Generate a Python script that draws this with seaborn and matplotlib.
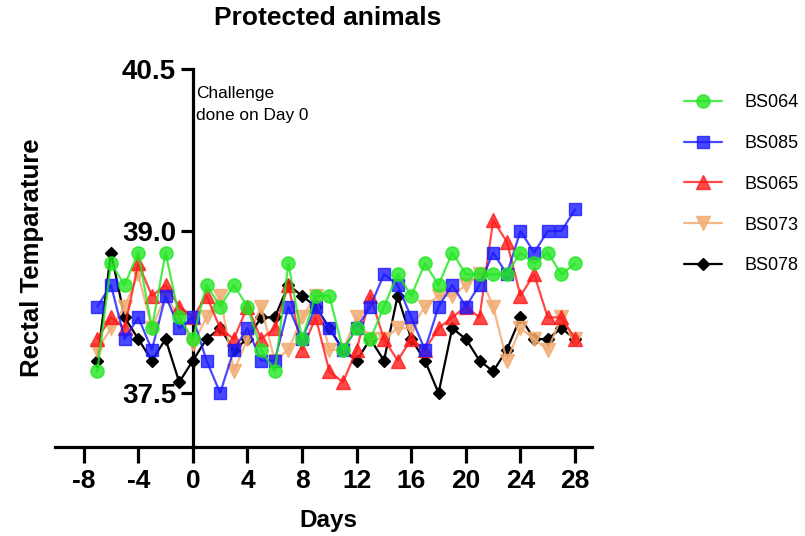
import matplotlib
matplotlib.use("Agg")
import matplotlib.pyplot as plt
import seaborn as sns
import pandas as pd

days = list(range(-7, 29))

bs064 = [37.7, 38.7, 38.5, 38.8, 38.1, 38.8, 38.2, 38.0, 38.5, 38.3, 38.5, 38.3, 37.9, 37.7,
         38.7, 38.0, 38.4, 38.4, 37.9, 38.1, 38.0, 38.3, 38.6, 38.4, 38.7, 38.5, 38.8, 38.6,
         38.6, 38.6, 38.6, 38.8, 38.7, 38.8, 38.6, 38.7]
bs085 = [38.3, 38.5, 38.0, 38.2, 37.9, 38.4, 38.1, 38.2, 37.8, 37.5, 37.9, 38.1, 37.8, 37.8,
         38.3, 38.0, 38.3, 38.1, 37.9, 38.1, 38.3, 38.6, 38.5, 38.2, 37.9, 38.3, 38.5, 38.3,
         38.5, 38.8, 38.6, 39.0, 38.8, 39.0, 39.0, 39.2]
bs065 = [38.0, 38.2, 38.1, 38.7, 38.4, 38.5, 38.3, 38.2, 38.4, 38.1, 38.0, 38.3, 38.0, 38.1,
         38.5, 37.9, 38.2, 37.7, 37.6, 37.9, 38.4, 38.0, 37.8, 38.0, 37.9, 38.1, 38.2, 38.3,
         38.2, 39.1, 38.9, 38.4, 38.6, 38.2, 38.2, 38.0]
bs073 = [37.9, 38.1, 38.3, 38.6, 38.1, 38.4, 38.2, 37.95, 38.2, 38.4, 37.7, 38.0, 38.3, 37.8,
         37.9, 38.2, 38.4, 37.9, 37.9, 38.2, 38.0, 38.0, 38.1, 38.1, 38.3, 38.4, 38.4, 38.5,
         38.6, 38.3, 37.8, 38.1, 38.0, 37.9, 38.2, 38.0]
bs078 = [37.8, 38.8, 38.2, 38.0, 37.8, 38.0, 37.6, 37.8, 38.0, 38.1, 37.9, 38.0, 38.2, 38.2,
         38.5, 38.4, 38.3, 38.1, 37.9, 37.8, 38.0, 37.8, 38.4, 38.0, 37.8, 37.5, 38.1, 38.0,
         37.8, 37.7, 37.9, 38.2, 38.0, 38.0, 38.1, 38.0]

names = ["BS064", "BS085", "BS065", "BS073", "BS078"]
series = [bs064, bs085, bs065, bs073, bs078]
colors = ["#22e622", "#1a1aff", "#ff1a1a", "#f2ac72", "#000000"]
markers = ["o", "s", "^", "v", "D"]
msizes = [9.5, 9, 10, 10, 6.5]
alphas = [0.8, 0.8, 0.8, 0.85, 1.0]

xticks = [-8, -4, 0, 4, 8, 12, 16, 20, 24, 28]
yticks = [37.5, 39.0, 40.5]
ytick_labels = ["37.5", "39.0", "40.5"]

sns.set_theme(style="white")
plt.rcParams["font.family"] = ["Liberation Sans", "DejaVu Sans"]
plt.rcParams["axes.unicode_minus"] = False
plt.rcParams["text.color"] = "black"
plt.rcParams["axes.labelcolor"] = "black"
plt.rcParams["xtick.color"] = "black"
plt.rcParams["ytick.color"] = "black"

fig = plt.figure(figsize=(8.05, 5.36), dpi=100)
ax = fig.add_axes([55 / 805, 89 / 536, (592 - 55) / 805, (447 - 69) / 536])

n = len(names)
for i in reversed(range(n)):
    df = pd.DataFrame({"Day": days, "Temp": series[i]})
    sns.lineplot(data=df, x="Day", y="Temp", ax=ax, color=colors[i], marker=markers[i],
                 markersize=msizes[i], markeredgecolor=colors[i], markeredgewidth=1,
                 linewidth=1.6, alpha=alphas[i], zorder=3 + (n - i), label=names[i],
                 clip_on=False)

ax.set_xlim(-10.1, 29.24)
ax.set_ylim(37.0, 40.5)

for s in ["top", "right"]:
    ax.spines[s].set_visible(False)
ax.spines["left"].set_position(("data", 0))
for s in ["left", "bottom"]:
    ax.spines[s].set_linewidth(2.3)
    ax.spines[s].set_color("black")
    ax.spines[s].set_zorder(2)

ax.set_xticks(xticks)
ax.set_xticklabels([str(t) for t in xticks])
ax.set_yticks(yticks)
ax.set_yticklabels(ytick_labels)
ax.tick_params(axis="x", direction="out", length=11.5, width=2.3, color="black",
               labelsize=19, pad=4, bottom=True, labelcolor="black")
ax.tick_params(axis="y", direction="out", length=9, width=2.3, color="black",
               labelsize=20, pad=3, left=True, labelcolor="black")
for lab in ax.get_xticklabels() + ax.get_yticklabels():
    lab.set_fontweight("bold")

ax.set_xlabel("")
ax.set_ylabel("")
ax.grid(False)

fig.text(328 / 805, 1 - 18 / 536, "Protected animals", ha="center", va="center",
         fontsize=19, fontweight="bold", color="black")
fig.text(32 / 805, 1 - 258 / 536, "Rectal Temparature", ha="center", va="center",
         rotation=90, fontsize=18.5, fontweight="bold", color="black")
fig.text(328 / 805, 1 - 521 / 536, "Days", ha="center", va="center",
         fontsize=17.5, fontweight="bold", color="black")
ax.text(0.25, 40.34, "Challenge\ndone on Day 0", ha="left", va="top", fontsize=12.4,
        linespacing=1.55, color="black")

handles, labels = ax.get_legend_handles_labels()
order = [labels.index(nm) for nm in names]
handles = [handles[k] for k in order]
labels = [labels[k] for k in order]
leg = ax.legend(handles, labels, loc="upper left", bbox_to_anchor=(684 / 805, 1 - 94 / 536),
                bbox_transform=fig.transFigure, frameon=False, fontsize=13, handlelength=2.1,
                handletextpad=1.25, labelspacing=1.32, borderpad=0, borderaxespad=0)
for t in leg.get_texts():
    t.set_color("black")

fig.savefig("out.png", dpi=100)
